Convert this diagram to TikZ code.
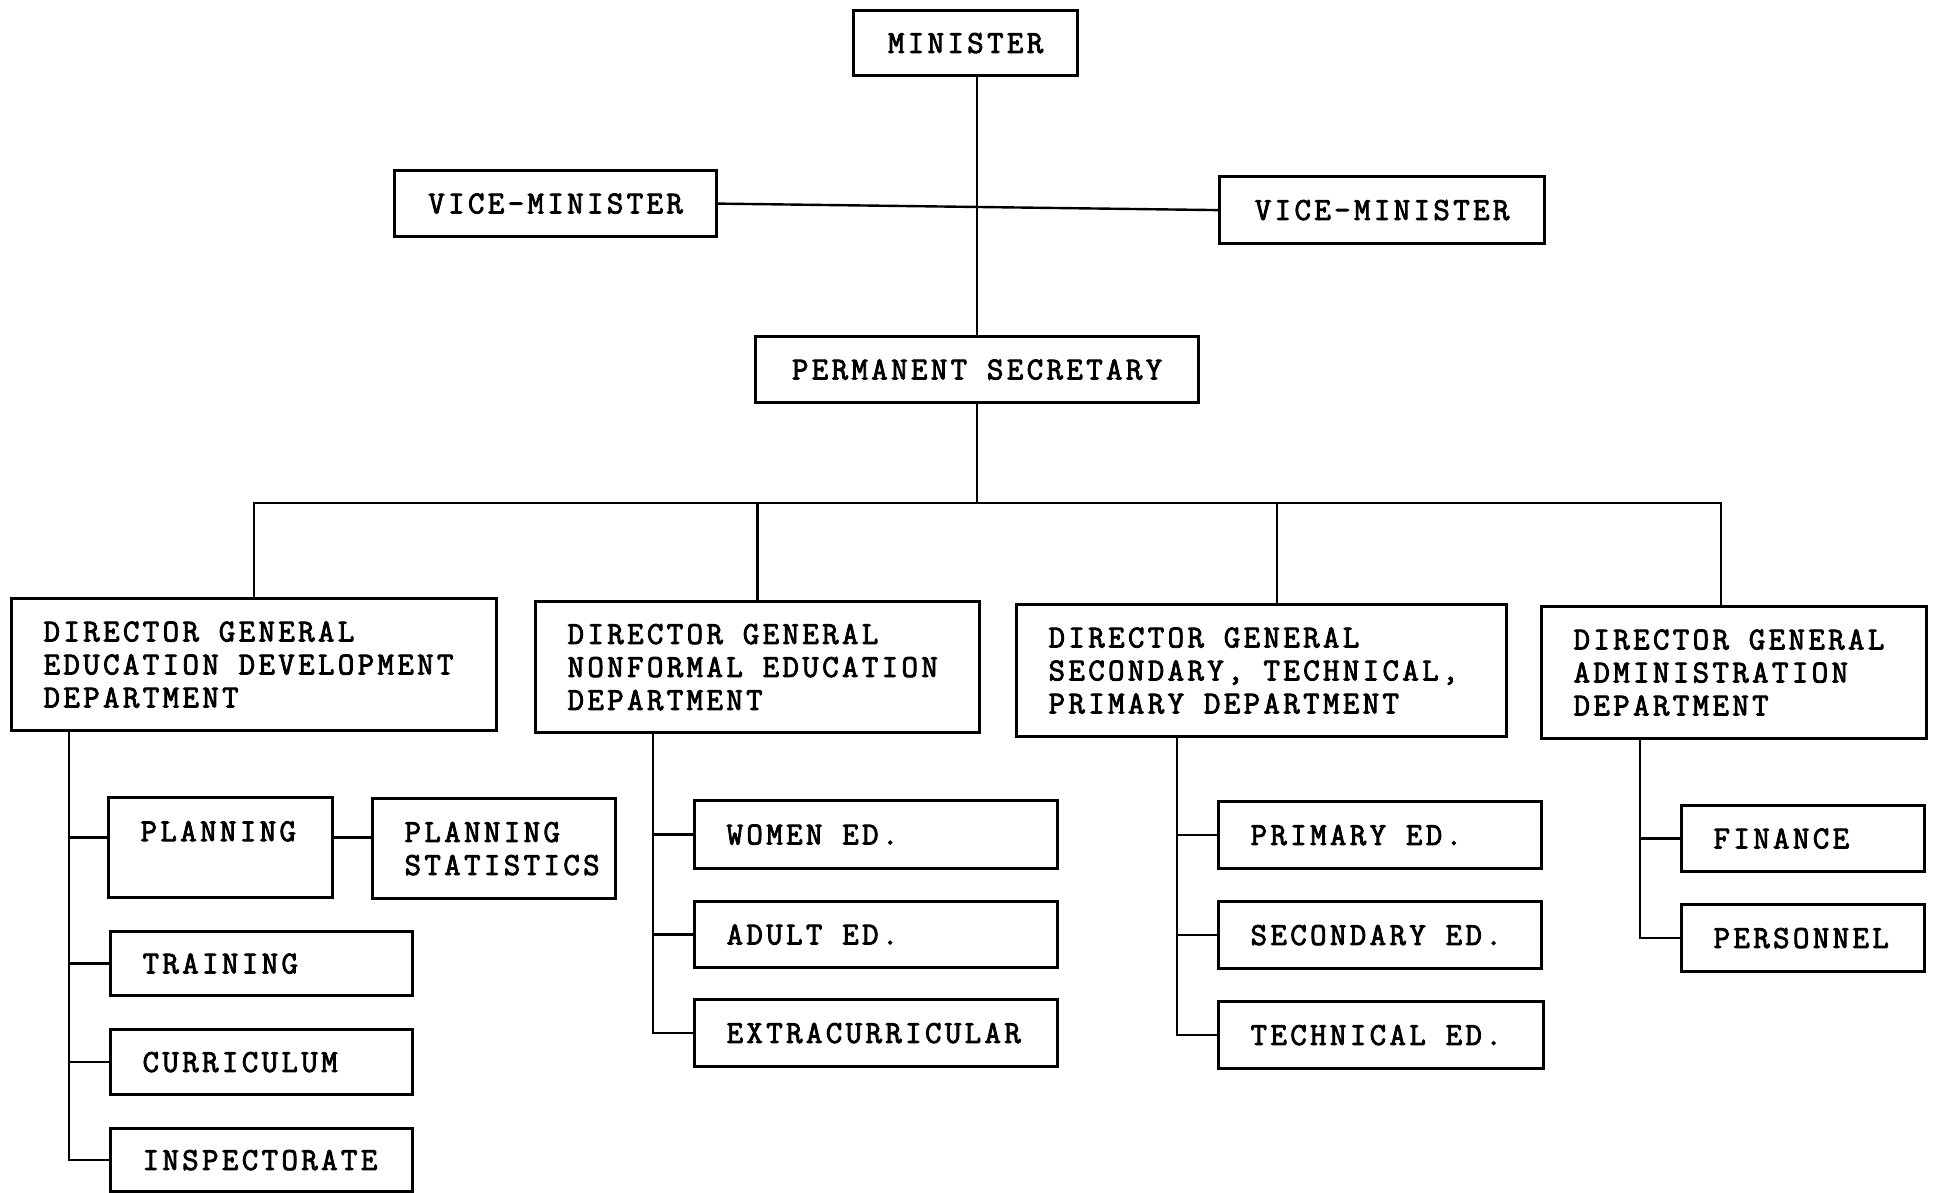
\documentclass[tikz,border=0pt]{standalone}
\usepackage{fontspec}
\usetikzlibrary{calc}
\newfontfamily\typewriter{Latin Modern Mono}[LetterSpace=10.5, FakeBold=2.6]
\newcommand\orgfont{\typewriter\fontsize{32}{33}\selectfont}
% one unbreakable typed line
\newcommand\tline[1]{\mbox{#1}}
% a word gap exactly one typewriter cell wide
\newcommand\wgap{\begingroup\settowidth{\dimen0}{XX}\settowidth{\dimen2}{X}%
  \hspace*{\dimexpr\dimen0-\dimen2\relax}\endgroup}
\begin{document}
\begin{tikzpicture}[x=1pt,y=-1pt,
  box/.style={draw, line width=3.2pt, inner ysep=0pt, font=\orgfont},
  cbox/.style={box, anchor=north west, align=center},
  lbox/.style={box, anchor=north west, align=left, inner xsep=32pt},
  conn/.style={line width=2.4pt}]
\useasboundingbox (0,0) rectangle (1937,1192);

% top of the ministry
\node[cbox, minimum width=224pt, minimum height=65pt] (min) at (852,9) {MINISTER};
\node[cbox, minimum width=322pt, minimum height=66pt] (vm1) at (393,169) {VICE-MINISTER};
\node[cbox, minimum width=325pt, minimum height=67pt] (vm2) at (1218,175) {VICE-MINISTER};
\node[cbox, minimum width=443pt, minimum height=66pt] (ps) at (754,335) {\tline{PERMANENT\wgap SECRETARY}};

% directors general
\node[lbox, minimum height=132pt, text width=421pt] (dg1) at (10,597)
  {\tline{DIRECTOR\wgap GENERAL}\\\tline{EDUCATION\wgap DEVELOPMENT}\\\tline{DEPARTMENT}};
\node[lbox, minimum height=131pt, text width=380pt] (dg2) at (534,600)
  {\tline{DIRECTOR\wgap GENERAL}\\\tline{NONFORMAL\wgap EDUCATION}\\\tline{DEPARTMENT}};
\node[lbox, minimum height=132pt, text width=426pt] (dg3) at (1015,603)
  {\tline{DIRECTOR\wgap GENERAL}\\\tline{SECONDARY,\wgap TECHNICAL,}\\\tline{PRIMARY\wgap DEPARTMENT}};
\node[lbox, minimum height=132pt, text width=321pt] (dg4) at (1540,605)
  {\tline{DIRECTOR\wgap GENERAL}\\\tline{ADMINISTRATION}\\\tline{DEPARTMENT}};

% education development units
\node[lbox, minimum height=100pt, text width=160pt] (plan) at (107,796) {\tline{PLANNING}\\\mbox{}};
\node[lbox, minimum height=100pt, text width=179pt] (stat) at (371,797) {\tline{PLANNING}\\\tline{STATISTICS}};
\node[lbox, minimum height=64pt, text width=238pt] (train) at (109,930) {\tline{TRAINING}};
\node[lbox, minimum height=65pt, text width=238pt] (curr) at (109,1028) {\tline{CURRICULUM}};
\node[lbox, minimum height=63pt, text width=238pt] (insp) at (109,1127) {\tline{INSPECTORATE}};

% nonformal education units
\node[lbox, minimum height=68pt, text width=299pt] (women) at (693,799) {\tline{WOMEN\wgap ED.}};
\node[lbox, minimum height=66pt, text width=299pt] (adult) at (693,900) {\tline{ADULT\wgap ED.}};
\node[lbox, minimum height=67pt, text width=299pt] (extra) at (693,998) {\tline{EXTRACURRICULAR}};

% secondary, technical, primary units
\node[lbox, minimum height=67pt, text width=259pt] (prim) at (1217,800) {\tline{PRIMARY\wgap ED.}};
\node[lbox, minimum height=67pt, text width=259pt] (sec) at (1217,900) {\tline{SECONDARY\wgap ED.}};
\node[lbox, minimum height=67pt, text width=261pt] (tech) at (1217,1000) {\tline{TECHNICAL\wgap ED.}};

% administration units
\node[lbox, minimum height=66pt, text width=179pt] (fin) at (1680,804) {\tline{FINANCE}};
\node[lbox, minimum height=67pt, text width=179pt] (pers) at (1680,903) {\tline{PERSONNEL}};

% junction points of the connectors
\coordinate (bus) at (0,503);
\coordinate (b3) at (1277,503);
\coordinate (b4) at (1721,503);
\coordinate (t1) at (69,0);
\coordinate (t2) at (653,0);
\coordinate (t3) at (1177,0);
\coordinate (t4) at (1640,0);
\coordinate (pl) at ($(plan.west)+(0,-10)$);

% connectors
\draw[conn] (min.south -| ps.north) -- (ps.north);
\draw[conn] (vm1.east) -- (vm2.west);
\draw[conn] (ps.south) -- (ps.south |- bus);
\draw[conn] (dg1.north) |- (b4) -- (b4 |- dg4.north);
\draw[conn] (dg2.north) -- (dg2.north |- bus);
\draw[conn] (b3 |- dg3.north) -- (b3);

\draw[conn] (dg1.south -| t1) |- (insp.west);
\draw[conn] (t1 |- pl) -- (pl);
\draw[conn] (plan.east |- pl) -- (stat.west |- pl);
\draw[conn] (t1 |- train.west) -- (train.west);
\draw[conn] (t1 |- curr.west) -- (curr.west);

\draw[conn] (dg2.south -| t2) |- (extra.west);
\draw[conn] (t2 |- women.west) -- (women.west);
\draw[conn] (t2 |- adult.west) -- (adult.west);

\draw[conn] (dg3.south -| t3) |- (tech.west);
\draw[conn] (t3 |- prim.west) -- (prim.west);
\draw[conn] (t3 |- sec.west) -- (sec.west);

\draw[conn] (dg4.south -| t4) |- (pers.west);
\draw[conn] (t4 |- fin.west) -- (fin.west);
\end{tikzpicture}
\end{document}
